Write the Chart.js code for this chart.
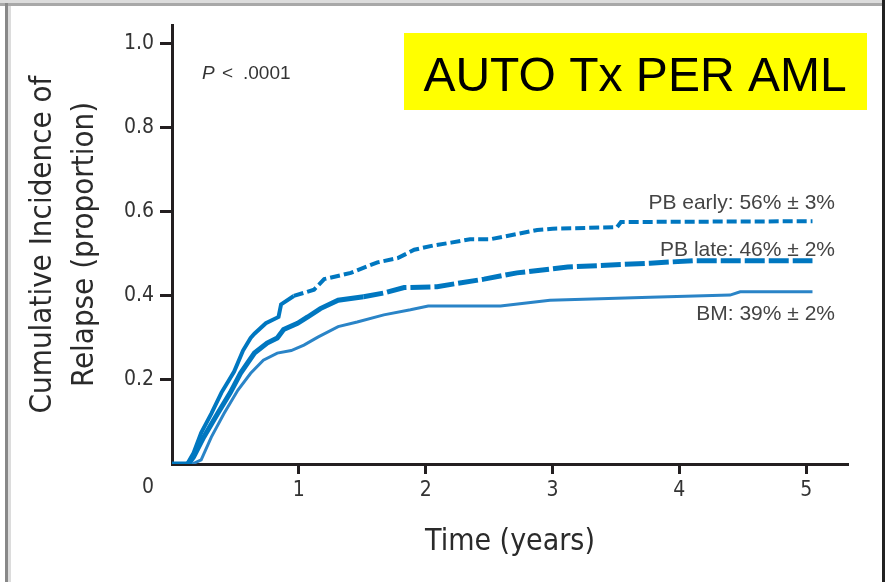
<!DOCTYPE html>
<html>
<head>
<meta charset="utf-8">
<script src="https://cdn.jsdelivr.net/npm/chart.js@4/dist/chart.umd.min.js"></script>
<style>
  html, body { margin: 0; padding: 0; background: #fff; }
  #wrap { width: 885px; height: 582px; position: relative; }
</style>
</head>
<body>
<div id="wrap"><canvas id="relapseChart" width="885" height="582"></canvas></div>
<script>
// cumulative incidence of relapse
const pbEarlyTime = [0, 0.12, 0.17, 0.23, 0.31, 0.39, 0.45, 0.49, 0.56, 0.62, 0.65, 0.74, 0.84, 0.86, 0.96, 1.12, 1.2, 1.41, 1.62, 1.78, 1.91, 2.06, 2.2, 2.35, 2.51, 2.88, 3.0, 3.51, 3.54, 5.05];
const pbEarlyCI   = [0, 0, 0.026, 0.074, 0.12, 0.17, 0.2, 0.22, 0.27, 0.3, 0.31, 0.335, 0.35, 0.38, 0.40, 0.415, 0.44, 0.455, 0.48, 0.49, 0.51, 0.52, 0.527, 0.535, 0.535, 0.557, 0.56, 0.564, 0.576, 0.578];

const pbLateTime = [0, 0.13, 0.17, 0.25, 0.36, 0.46, 0.54, 0.65, 0.75, 0.83, 0.88, 0.99, 1.07, 1.17, 1.31, 1.51, 1.67, 1.83, 2.09, 2.25, 2.46, 2.72, 3.12, 3.77, 4.11, 5.05];
const pbLateCI   = [0, 0, 0.017, 0.064, 0.12, 0.17, 0.216, 0.264, 0.288, 0.30, 0.32, 0.335, 0.35, 0.37, 0.39, 0.398, 0.407, 0.42, 0.422, 0.43, 0.44, 0.455, 0.469, 0.478, 0.484, 0.484];

const bmTime = [0, 0.16, 0.23, 0.31, 0.41, 0.52, 0.62, 0.72, 0.83, 0.94, 1.04, 1.15, 1.31, 1.46, 1.67, 1.88, 2.02, 2.59, 2.98, 3.77, 4.4, 4.48, 5.05];
const bmCI   = [0, 0, 0.01, 0.064, 0.12, 0.176, 0.216, 0.247, 0.264, 0.27, 0.283, 0.302, 0.327, 0.338, 0.355, 0.367, 0.376, 0.376, 0.39, 0.397, 0.402, 0.41, 0.41];

const seriesNames  = ['PB early', 'PB late', 'BM'];
const seriesLabels = ['PB early: 56% \u00b1 3%', 'PB late: 46% \u00b1 2%', 'BM: 39% \u00b1 2%'];
const xTickValues = [1, 2, 3, 4, 5];
const yTickValues = [0.2, 0.4, 0.6, 0.8, 1.0];
const pValueText = ['P', '<', '.0001'];
const boxTitle = 'AUTO Tx PER AML';

const toPoints = (t, v) => t.map((x, i) => ({x: x, y: v[i]}));

const NARROW = "'Liberation Sans Narrow', 'DejaVu Sans Condensed', 'Arial Narrow', sans-serif";
const SANS = "'Liberation Sans', Arial, sans-serif";
const AXIS = '#231f20';
const BLUE = '#0077c0';

// frame, title box and text notes
const decorations = {
    id: 'decorations',
    beforeDraw(chart) {
        const c = chart.ctx;
        c.save();
        c.fillStyle = '#fff';
        c.fillRect(0, 0, chart.width, chart.height);
        c.fillStyle = '#dcdcdc';
        c.fillRect(0, 0, chart.width, 3);
        c.fillRect(8, 0, 3, chart.height);
        c.fillStyle = '#a8a8a8';
        c.fillRect(0, 3, chart.width, 3);
        c.fillStyle = '#888';
        c.fillRect(5, 3, 3, chart.height);
        c.fillStyle = '#222';
        c.fillRect(882, 0, 3, chart.height);
        c.restore();
    },
    afterDraw(chart) {
        const c = chart.ctx;
        const x = chart.scales.x, y = chart.scales.y;
        c.save();
        // yellow title box
        c.fillStyle = '#ffff00';
        c.fillRect(404, 33, 463, 77);
        c.fillStyle = '#000';
        c.font = '48px ' + SANS;
        c.textAlign = 'center';
        c.textBaseline = 'alphabetic';
        c.fillText(boxTitle, 635, 91);

        // P value
        c.fillStyle = '#333';
        c.textAlign = 'left';
        c.font = 'italic 19px ' + SANS;
        c.fillText(pValueText[0], 202, 79);
        c.font = '19px ' + SANS;
        c.fillText(pValueText[1], 222, 79);
        c.fillText(pValueText[2], 243, 79);

        // curve labels
        c.textAlign = 'right';
        c.textBaseline = 'middle';
        c.font = '21px ' + SANS;
        c.fillStyle = '#444';
        const labelY = [0.62, 0.51, 0.357];
        seriesLabels.forEach((s, i) => c.fillText(s, 835, y.getPixelForValue(labelY[i])));

        // origin label
        c.textAlign = 'center';
        c.font = '21px ' + NARROW;
        c.fillStyle = '#333';
        c.fillText('0', x.getPixelForValue(0) - 24, 488);
        c.restore();
    }
};

const lateDash = (start, dash) => ctx => ctx.p0.parsed.x < start ? [] : dash;

const chart = new Chart(document.getElementById('relapseChart'), {
    type: 'line',
    data: {
        datasets: [{
            label: seriesNames[0],
            data: toPoints(pbEarlyTime, pbEarlyCI),
            borderColor: BLUE,
            borderWidth: 4,
            segment: {borderDash: lateDash(0.95, [10, 4])}
        }, {
            label: seriesNames[1],
            data: toPoints(pbLateTime, pbLateCI),
            borderColor: BLUE,
            borderWidth: 5,
            segment: {borderDash: lateDash(1.5, [20, 4])}
        }, {
            label: seriesNames[2],
            data: toPoints(bmTime, bmCI),
            borderColor: '#2a84c7',
            borderWidth: 3
        }]
    },
    options: {
        responsive: false,
        animation: false,
        devicePixelRatio: 1,
        layout: {padding: {left: 12, right: 37, top: 25, bottom: 0}},
        elements: {point: {radius: 0}, line: {tension: 0, borderCapStyle: 'butt'}},
        plugins: {
            legend: {display: false},
            tooltip: {enabled: false}
        },
        scales: {
            x: {
                type: 'linear',
                min: 0,
                max: 5.33,
                afterBuildTicks: s => { s.ticks = xTickValues.map(v => ({value: v})); },
                afterFit: s => { s.height = 118; },
                grid: {drawOnChartArea: false, drawTicks: true, tickLength: 10, tickWidth: 3, tickColor: AXIS},
                border: {display: true, color: AXIS, width: 3},
                ticks: {color: '#333', padding: 4, font: {family: NARROW, size: 21}, maxRotation: 0},
                title: {
                    display: true,
                    text: 'Time (years)',
                    color: '#2a2a2a',
                    font: {family: NARROW, size: 30, lineHeight: 1.4},
                    padding: {top: 0, bottom: 19}
                }
            },
            y: {
                type: 'linear',
                min: 0,
                max: 1.045,
                afterBuildTicks: s => { s.ticks = yTickValues.map(v => ({value: v})); },
                afterFit: s => { s.width = 160; },
                grid: {drawOnChartArea: false, drawTicks: true, tickLength: 12, tickWidth: 3, tickColor: AXIS},
                border: {display: true, color: AXIS, width: 3},
                ticks: {
                    color: '#333',
                    padding: 6,
                    font: {family: NARROW, size: 21},
                    callback: v => v.toFixed(1)
                },
                title: {
                    display: true,
                    text: ['Cumulative Incidence of', 'Relapse (proportion)'],
                    color: '#2a2a2a',
                    font: {family: NARROW, size: 31, lineHeight: 1.355},
                    padding: {top: 10, bottom: 0}
                }
            }
        }
    },
    plugins: [decorations]
});
</script>
</body>
</html>
